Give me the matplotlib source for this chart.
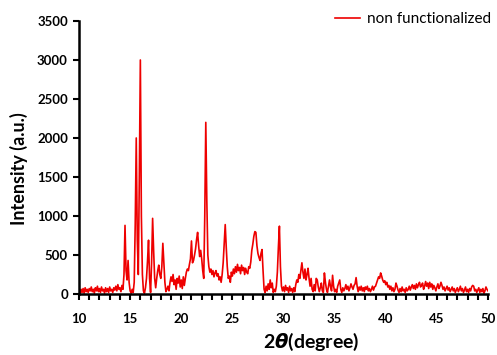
import numpy as np
import matplotlib
matplotlib.use("Agg")
import matplotlib.pyplot as plt
from matplotlib.ticker import MultipleLocator

plt.rcParams['font.family'] = ['Lato', 'DejaVu Sans']
plt.rcParams['mathtext.fontset'] = 'dejavusans'

# intensity, one row per degree (x.0 ... x.9)
intensity_rows = [
    [30, 0, 60, 20, 70, 10, 80, 30, 60, 20],              # 10
    [70, 40, 90, 30, 60, 10, 80, 40, 100, 30],            # 11
    [70, 20, 90, 40, 60, 10, 80, 30, 70, 20],             # 12
    [90, 40, 60, 20, 80, 50, 100, 40, 120, 60],           # 13
    [80, 30, 110, 60, 250, 880, 300, 180, 430, 150],      # 14
    [40, 10, 60, 20, 150, 900, 2000, 700, 250, 1500],     # 15
    [3000, 1000, 250, 40, 10, 80, 200, 420, 690, 200],    # 16
    [20, 400, 970, 550, 200, 80, 200, 300, 370, 250],     # 17
    [200, 350, 650, 400, 150, 30, 60, 100, 40, 150],      # 18
    [220, 160, 250, 120, 180, 60, 200, 140, 230, 90],     # 19
    [180, 70, 220, 110, 200, 280, 320, 300, 380, 450],    # 20
    [680, 400, 430, 500, 580, 700, 790, 620, 480, 560],   # 21
    [450, 300, 200, 1000, 2200, 1200, 500, 350, 280, 320],  # 22
    [250, 300, 220, 270, 300, 230, 260, 180, 220, 150],   # 23
    [250, 400, 650, 890, 600, 350, 200, 230, 150, 280],   # 24
    [230, 320, 260, 350, 280, 380, 300, 340, 260, 370],   # 25
    [300, 340, 250, 330, 280, 260, 350, 330, 410, 560],   # 26
    [640, 740, 800, 790, 620, 520, 470, 430, 520, 570],   # 27
    [300, 60, 20, 100, 40, 130, 60, 180, 80, 140],        # 28
    [20, 60, 30, 100, 280, 600, 870, 350, 100, 40],       # 29
    [90, 30, 110, 50, 80, 20, 100, 40, 70, 20],           # 30
    [80, 30, 120, 180, 150, 250, 200, 300, 400, 280],     # 31
    [200, 320, 180, 250, 330, 200, 100, 200, 60, 30],     # 32
    [120, 40, 200, 180, 90, 30, 80, 140, 40, 20],         # 33
    [270, 150, 60, 20, 100, 180, 90, 40, 240, 100],       # 34
    [30, 60, 20, 100, 140, 180, 60, 20, 80, 40],          # 35
    [70, 120, 60, 100, 40, 80, 130, 90, 60, 110],         # 36
    [130, 210, 100, 30, 90, 50, 100, 40, 80, 30],         # 37
    [90, 60, 100, 40, 70, 30, 60, 100, 50, 90],           # 38
    [100, 140, 180, 220, 200, 270, 230, 180, 150, 170],   # 39
    [120, 150, 90, 110, 60, 100, 40, 80, 30, 60],         # 40
    [140, 100, 50, 20, 70, 30, 90, 40, 60, 20],           # 41
    [80, 40, 60, 100, 50, 90, 120, 70, 110, 60],          # 42
    [130, 80, 120, 150, 90, 110, 140, 60, 100, 160],      # 43
    [100, 140, 70, 150, 90, 130, 60, 110, 80, 40],        # 44
    [90, 130, 70, 100, 150, 110, 60, 90, 40, 70],         # 45
    [100, 50, 80, 30, 60, 90, 40, 70, 20, 50],            # 46
    [80, 30, 60, 100, 40, 70, 20, 50, 90, 30],            # 47
    [60, 20, 70, 40, 90, 110, 100, 40, 60, 20],           # 48
    [50, 80, 20, 60, 30, 70, 10, 40, 90, 60],             # 49
    [40],                                                 # 50
]
intensity = np.concatenate(intensity_rows)
two_theta = np.linspace(10, 50, len(intensity))

x_ticks = [10, 15, 20, 25, 30, 35, 40, 45, 50]
y_ticks = [0, 500, 1000, 1500, 2000, 2500, 3000, 3500]

fig = plt.figure(figsize=(4.97, 3.55), dpi=100)
ax = fig.add_axes([79 / 497, 1 - 294 / 355, 409 / 497, 273 / 355])

ax.plot(two_theta, intensity, color='#ee0000', lw=1.2, label='non functionalized')

ax.set_xlim(10, 50)
ax.set_ylim(0, 3500)
ax.set_xticks(x_ticks)
ax.set_yticks(y_ticks)
ax.xaxis.set_minor_locator(MultipleLocator(1))

for s in ['top', 'right']:
    ax.spines[s].set_visible(False)
for s in ['left', 'bottom']:
    ax.spines[s].set_linewidth(1.8)

ax.tick_params(axis='x', which='both', direction='out', length=4, width=1.5, pad=10)
ax.tick_params(axis='y', which='major', direction='out', length=4, width=1.5, pad=4)
for lab in ax.get_xticklabels() + ax.get_yticklabels():
    lab.set_fontweight('bold')
    lab.set_fontsize(9.5)

ax.set_ylabel('Intensity (a.u.)', fontsize=13, fontweight='bold')
ax.yaxis.set_label_coords(-0.125, 0.46)
ax.set_xlabel(r'2$\mathbfit{\theta}$(degree)', fontsize=14, fontweight='bold')
ax.xaxis.set_label_coords((311 - 79) / 409, -0.135)

ax.legend(loc='center left', bbox_to_anchor=(335 / 497, 1 - 19 / 355),
          bbox_transform=fig.transFigure, frameon=False, fontsize=11,
          handlelength=1.65, handletextpad=0.45, borderpad=0, borderaxespad=0)

fig.savefig('out.png', dpi=100)
